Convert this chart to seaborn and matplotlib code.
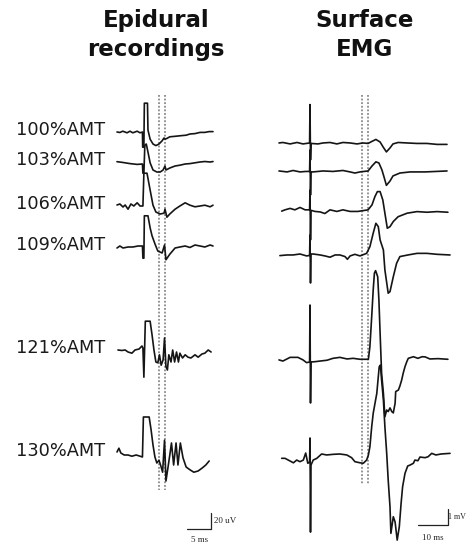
import matplotlib
matplotlib.use("Agg")
import matplotlib.pyplot as plt
import pandas as pd
import seaborn as sns

sns.set_style("white")
plt.rcParams["font.family"] = ["DejaVu Sans"]

# ---------------- epidural recordings (time in ms, amplitude in uV) ----------------
epi_labels = ["100%AMT", "103%AMT", "106%AMT", "109%AMT", "121%AMT", "130%AMT"]

epi_100_t = [0.0, 0.6, 1.2, 2.1, 2.7, 3.3, 4.2, 4.8, 5.3, 5.35, 5.6, 5.7, 6.35, 6.45, 6.9, 7.5, 8.1,
             8.75, 9.4, 9.8, 10.0, 10.4, 11.0, 11.9, 12.7, 13.5, 14.4, 15.2, 16.25, 17.3, 18.3, 19.2, 20.0]
epi_100_uv = [0, -0.6, 1, -1, 1, -1, 1, -1, 0, -19, -19, 36, 36, 2.5, -9, -15, -17,
              -15, -11, -7.5, -9, -8, -6, -5.5, -5, -4.5, -4, -2.5, -2, -0.5, -0.5, 0.5, 0.5]

epi_103_t = [0.0, 1.25, 2.7, 4.2, 5.3, 5.4, 5.6, 5.8, 6.1, 6.45, 6.9, 7.5, 8.3, 9.0, 9.6, 10.0, 10.2,
             11.0, 12.1, 13.1, 14.2, 15.2, 16.25, 17.3, 18.3, 19.4, 20.0]
epi_103_uv = [0.4, -0.6, -2, -3, -2.5, -14, -14, 21, 22.5, 12.5, -1, -10, -12.5, -12.5, -10, -5, -10,
              -7.5, -5, -4, -2.5, -2, -1, 0, 0.6, 0, 0.6]

epi_106_t = [0.0, 0.6, 1.25, 1.7, 2.3, 2.9, 3.5, 4.2, 4.8, 5.4, 5.6, 6.25, 6.9, 7.5, 8.1, 9.0, 9.8,
             10.0, 10.4, 11.0, 12.1, 13.1, 14.2, 15.2, 16.25, 17.3, 18.3, 19.4, 20.0]
epi_106_uv = [1.25, 2.5, -1.25, 1.25, -4, 2.5, 0, 4, 0, 0, 41, 41, 20, 1, -7.5, -10, -9,
              -4, -14, -10, -4, 0, 4, 1, -1, 0, 1, -1, 1]

epi_109_t = [0.0, 0.6, 1.25, 2.3, 3.3, 4.4, 5.3, 5.4, 5.6, 5.7, 6.45, 6.9, 7.3, 7.9, 8.5, 9.4, 9.9,
             10.2, 11.0, 12.1, 13.1, 14.2, 15.2, 16.25, 17.3, 18.3, 19.4, 20.0]
epi_109_uv = [-1.25, 1.25, -1.25, 0, 0, 1.25, 1.25, -14, -14, 39, 39, 24, 14, 4, -5, -7.5, 2.5,
              -16, -9, -1.25, 0, 1.25, -0.6, 2.5, 1.25, 0, 2.5, 1.25]

epi_121_t = [0.2, 1.0, 1.7, 2.3, 3.1, 3.75, 4.6, 5.2, 5.4, 5.6, 5.9, 6.9, 7.3, 7.7, 8.1, 8.5, 8.85,
             9.2, 9.6, 9.9, 10.2, 10.5, 10.8, 11.25, 11.6, 12.0, 12.4, 12.8, 13.1, 13.65, 14.2,
             14.8, 15.4, 16.25, 16.9, 17.7, 18.3, 19.0, 19.6]
epi_121_uv = [0, -0.6, 0, -2.5, -4, 0, 1.25, 5, 2.5, -34, 36, 36, 19, 0, -15, -16, -6,
              -19, -12.5, 15, -21, -25, -6, -15, 0, -15, -2.5, -15, -4, -10, -6,
              -9, -10, -6, -9, -5, -4, 0, -2.5]

epi_130_t = [0.0, 0.4, 0.8, 1.5, 2.3, 3.1, 4.0, 4.8, 5.3, 5.5, 6.7, 7.1, 7.5, 7.9, 8.3, 8.75, 9.2,
             9.5, 9.9, 10.2, 10.6, 11.0, 11.35, 11.8, 12.3, 12.7, 13.2, 13.75, 14.4, 15.2, 16.0,
             16.9, 17.7, 18.5, 19.2]
epi_130_uv = [1.25, 6, 0, -2.5, -2.5, -4, -2.5, -4, -5, 45, 45, 29, 10, -5, -12.5, -9, -17.5,
              -24, 16, -35, -19, -2.5, 12.5, -15, 12.5, -15, 12.5, -6, -17.5, -21, -24,
              -22.5, -19, -15, -10]

# ---------------- surface EMG (time in ms, amplitude in mV) ----------------
emg_1_t = [0, 1.3, 3.7, 6, 8, 10.2, 10.33, 10.5, 10.67, 13, 14.7, 17, 19.3, 21.3, 23.7, 26, 28,
           29.7, 31, 32.3, 33.7, 34.7, 35.8, 37, 38, 39.7, 42.7, 46, 49.3, 52.7, 56]
emg_1_mv = [0, 0.03, -0.06, 0.03, -0.06, 0, 2.4, -1.06, -0.03, -0.06, 0, 0.03, -0.06, 0.03, 0, -0.06, 0,
            -0.03, 0.1, 0.22, 0.06, -0.25, -0.56, -0.31, -0.06, 0.03, 0, -0.03, -0.03, -0.09, -0.09]

emg_2_t = [0, 2.7, 4.7, 7, 9, 10.2, 10.33, 10.5, 10.67, 11.3, 14.7, 18, 21.3, 23.7, 25.3, 27, 29.7,
           31, 32.3, 33.3, 34.3, 35, 35.8, 37, 38, 40.3, 43.7, 48.7, 56]
emg_2_mv = [0.03, -0.03, 0.06, -0.03, 0, 0, 1.34, -1.47, -0.03, -0.03, 0.03, 0, 0.06, -0.03, -0.1, -0.03, 0.03,
            0.34, 0.6, 0.53, 0.1, -0.34, -0.87, -0.6, -0.28, -0.1, -0.03, -0.03, 0.03]

emg_3_t = [0.9, 2, 3.7, 5.3, 7, 8.7, 10.2, 10.33, 10.5, 10.67, 12, 13.7, 15.3, 17, 19.3, 21.3, 23.7,
           26.3, 29.7, 31, 32, 32.8, 33.7, 34.6, 35.3, 36.1, 37, 38.1, 39.7, 42.7, 46, 49.3, 52.7, 56.3]
emg_3_mv = [0.05, 0.13, 0.22, 0.13, 0.28, 0.13, 0.13, 1.37, -1.75, 0.1, 0.03, 0, -0.1, 0.13, 0.03, 0.13, 0.03,
            0.03, 0.13, 0.44, 0.97, 1.27, 1.27, 0.75, -0.08, -1.02, -0.92, -0.6, -0.3, -0.08, 0.02, -0.02, 0.02, -0.02]

emg_4_t = [0.3, 2.7, 4.7, 7, 9.2, 10.2, 10.33, 10.5, 10.67, 11.4, 13.7, 15.3, 17, 18.7, 20.3, 22, 22.8,
           23.7, 25.3, 27, 29.2, 30.3, 31.4, 32.3, 33.1, 33.7, 34.8, 35.3, 36.4, 37, 38.1, 39.2, 40.3,
           43, 46, 49.3, 52.7, 57]
emg_4_mv = [-0.04, 0, 0, 0.06, -0.06, -0.03, 1.25, -1.75, 0.06, 0.06, 0, -0.06, -0.14, 0, 0, -0.1, -0.27,
            -0.06, 0.04, -0.06, 0.1, 0.52, 1.36, 1.98, 1.77, 0.94, 0.31, -0.94, -2.39, -2.29, -1.36, -0.52, -0.1,
            0, 0.1, 0.1, 0.04, 0]

emg_5_t = [0, 1.3, 3.7, 6.3, 8, 9.2, 10.2, 10.33, 10.5, 10.67, 12, 13.7, 16, 18, 20.3, 22.7, 24.7, 27,
           29.8, 30.3, 30.9, 31.4, 31.8, 32.2, 32.9, 33.3, 33.7, 34.2, 34.8, 35.3, 35.9, 36.4, 37,
           37.6, 38.1, 38.7, 38.9, 39.8, 40.3, 40.9, 41.4, 42, 42.6, 43.1, 44.8, 46.3, 47.7, 48.7,
           50.3, 53, 56.3]
emg_5_mv = [-0.06, -0.13, 0.1, 0.1, -0.06, -0.23, -0.19, 3.37, -2.75, -0.19, -0.17, -0.13, -0.08, 0.04, 0.1, 0, 0.04, -0.02,
            -0.02, 0.77, 2.64, 4.31, 5.36, 5.52, 5.14, 3.69, 1.62, -0.89, -2.14, -3.61, -3.19, -3.29, -3.06,
            -3.29, -3.37, -2.77, -2.04, -1.94, -1.69, -1.31, -0.89, -0.48, -0.17, 0.04, 0.14, 0.04, 0.14, 0.13,
            0, 0.02, -0.02]

emg_6_t = [0.9, 2, 3.1, 4.8, 5.9, 7, 8.1, 8.9, 9.6, 10.2, 10.33, 10.5, 10.67, 11.4, 12.6, 14.2, 15.9,
           18.1, 20.3, 22.6, 24.2, 25.3, 27, 28.1, 29.2, 29.8, 30.3, 30.9, 31.4, 32, 32.6, 33.1, 33.4,
           33.8, 34.2, 34.8, 35.3, 35.9, 36.4, 37, 37.3, 38.1, 38.7, 39.4, 40.1, 40.7, 41.2, 42, 42.9,
           43.7, 44.8, 45.3, 46.3, 47, 48.7, 49.7, 50.9, 52.3, 54, 57]
emg_6_mv = [-0.08, -0.08, -0.19, -0.36, -0.19, -0.29, -0.19, 0.25, -0.39, -0.31, 1.19, -4.69, -0.5, -0.19, -0.08, 0.19, 0.13,
            0.17, 0.19, 0.13, -0.04, -0.29, -0.36, -0.39, -0.19, 0.13, 0.64, 1.89, 2.73, 3.36, 3.98, 5.02, 5.64,
            5.75, 4.81, 3.56, 1.89, 0.23, -1.44, -3.11, -4.77, -3.73, -4.06, -5.19, -4.36, -2.89, -1.86, -1.02, -0.56,
            -0.5, -0.39, -0.19, -0.23, 0, -0.04, 0.02, 0.23, 0.13, 0.19, 0.23]

epi_traces = [(epi_100_t, epi_100_uv), (epi_103_t, epi_103_uv), (epi_106_t, epi_106_uv),
              (epi_109_t, epi_109_uv), (epi_121_t, epi_121_uv), (epi_130_t, epi_130_uv)]
emg_traces = [(emg_1_t, emg_1_mv), (emg_2_t, emg_2_mv), (emg_3_t, emg_3_mv),
              (emg_4_t, emg_4_mv), (emg_5_t, emg_5_mv), (emg_6_t, emg_6_mv)]

# vertical stacking of the sweeps (layout)
epi_offsets = [-52.5, -90, -145, -196.25, -325, -453.75]
emg_offsets = [-3.31, -5.09, -7.62, -10.31, -16.81, -22.94]

# latency markers (ms)
epi_markers = [8.7, 9.9]
emg_markers = [27.6, 29.6]


def stack(traces, offsets):
    frames = []
    for i, ((t, v), off) in enumerate(zip(traces, offsets)):
        frames.append(pd.DataFrame({"time": t, "amp": [a + off for a in v], "sweep": i}))
    return pd.concat(frames, ignore_index=True)


fig = plt.figure(figsize=(4.67, 5.44), dpi=100)
ax_epi = fig.add_axes([110 / 467, 0, 130 / 467, 454 / 544])
ax_emg = fig.add_axes([260 / 467, 0, 207 / 467, 454 / 544])

trace_kw = dict(x="time", y="amp", units="sweep", estimator=None, sort=False,
                color="#151515", linewidth=1.2, legend=False)

# epidural panel
for m in epi_markers:
    ax_epi.plot([m, m], [-6, -500], color="#8a8a8a", linestyle=(0, (1, 1)), linewidth=1.3)
sns.lineplot(data=stack(epi_traces, epi_offsets), ax=ax_epi, **trace_kw)
ax_epi.set_xlim(-1.458, 25.625)
ax_epi.set_ylim(-567.5, 0)

for lab, off in zip(epi_labels, epi_offsets):
    ax_epi.text(-21.0, off + 3, lab, ha="left", va="center", fontsize=12.8, color="#1a1a1a")

# scale bar 5 ms / 20 uV
ax_epi.plot([14.6, 19.6, 19.6], [-548.75, -548.75, -528.75], color="#222222", linewidth=0.9)
ax_epi.text(20.2, -539, "20 uV", fontsize=6.5, family="Liberation Serif", va="center", ha="left")
ax_epi.text(17.1, -562, "5 ms", fontsize=6.5, family="Liberation Serif", va="center", ha="center")

# EMG panel
for m in emg_markers:
    ax_emg.plot([m, m], [-0.3, -24.7], color="#8a8a8a", linestyle=(0, (1, 1)), linewidth=1.3)
sns.lineplot(data=stack(emg_traces, emg_offsets), ax=ax_emg, **trace_kw)
ax_emg.set_xlim(-6.333, 62.667)
ax_emg.set_ylim(-28.375, 0)

# scale bar 10 ms / 1 mV
ax_emg.plot([46.3, 56.3, 56.3], [-27.19, -27.19, -26.19], color="#222222", linewidth=0.9)
ax_emg.text(62.4, -26.7, "1 mV", fontsize=5.8, family="Liberation Serif", va="center", ha="right")
ax_emg.text(51.3, -28.0, "10 ms", fontsize=6.5, family="Liberation Serif", va="center", ha="center")

for ax in (ax_epi, ax_emg):
    ax.set_axis_off()

fig.text(156 / 467, 1 - 35 / 544, "Epidural\nrecordings", ha="center", va="center",
         fontsize=16.5, fontweight="bold", linespacing=1.3, color="#111111")
fig.text(365 / 467, 1 - 35 / 544, "Surface\nEMG", ha="center", va="center",
         fontsize=16.5, fontweight="bold", linespacing=1.3, color="#111111")

fig.savefig("out.png", dpi=100)
